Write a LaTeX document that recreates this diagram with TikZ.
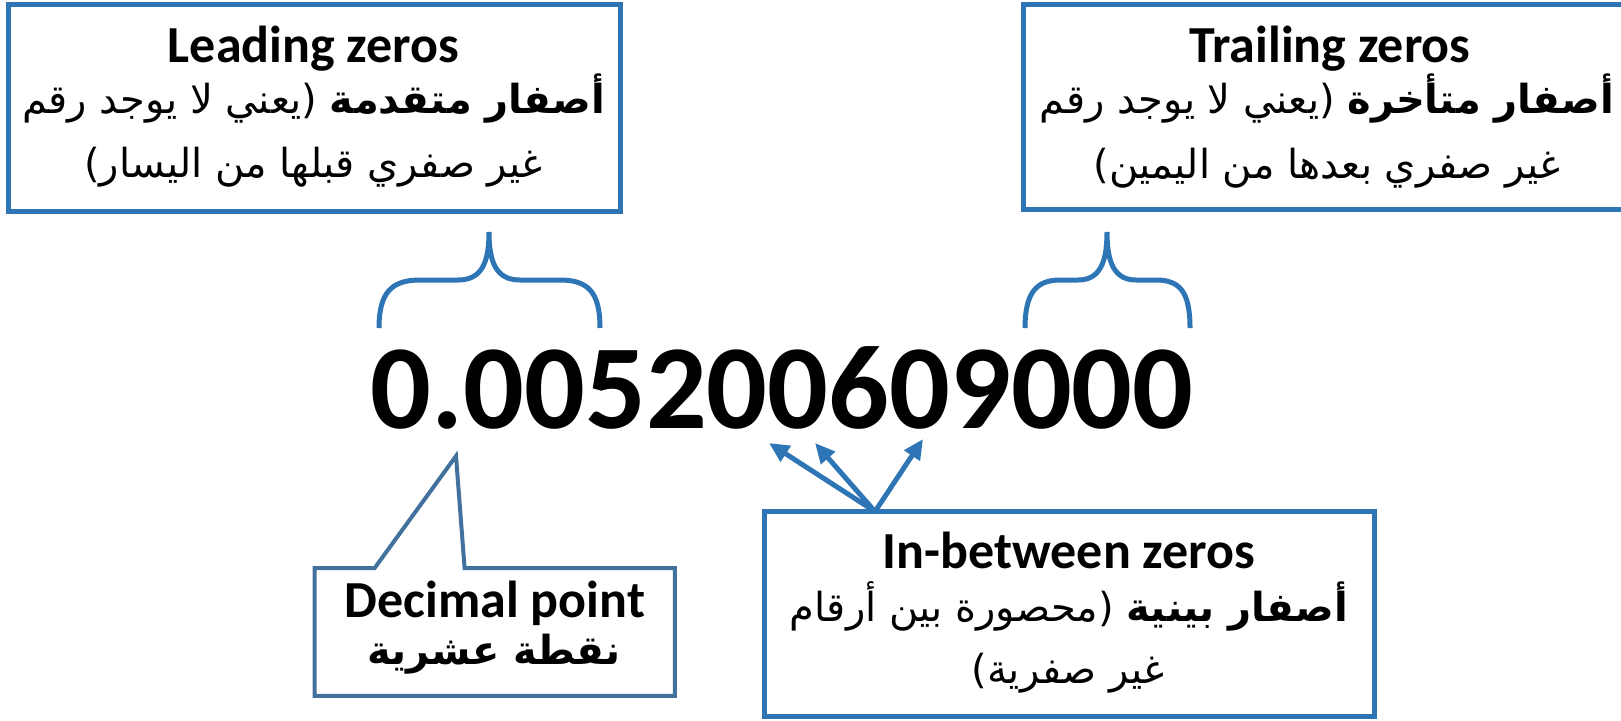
\documentclass[tikz,border=0pt]{standalone}
\usepackage{fontspec}
\setmainfont{Carlito}
\newfontfamily\arabicfont[Script=Arabic]{DejaVu Sans}
\TeXXeTstate=1
\usetikzlibrary{arrows.meta,calc}
\definecolor{boxblue}{RGB}{46,117,182}
\definecolor{calloutblue}{RGB}{65,113,156}

\begin{document}
\begin{tikzpicture}[x=0.5pt,y=-0.5pt,
  framebox/.style={draw=boxblue, line width=2.5pt, fill=white, inner sep=0pt},
  titletext/.style={font=\fontsize{26}{30}\selectfont\bfseries, anchor=base, inner sep=0pt},
  artext/.style={font=\fontsize{20}{24}\selectfont\arabicfont, anchor=base, inner sep=0pt},
  bracepath/.style={draw=boxblue, line width=2.5pt},
  pointer/.style={draw=boxblue, line width=2.5pt, -{Triangle[length=10pt,width=9pt]}},
  calloutline/.style={draw=calloutblue, line width=2pt, fill=white},
]
\useasboundingbox (0,0) rectangle (1621,720);
\clip (0,0) rectangle (1621,720);

% the number itself
\node[font=\fontsize{60}{64}\selectfont\bfseries, anchor=base, inner sep=0pt] (num) at (782,428) {0.005200609000};

% leading zeros box
\node[framebox, minimum width=306pt, minimum height=103.5pt] (lead) at (314.5,108) {};
\node[titletext] (leadT) at (313.5,62) {Leading zeros};
\node[artext] (leadA) at (313.5,113) {\beginR{\bfseries أصفار متقدمة} (يعني لا يوجد رقم\endR};
\node[artext] (leadB) at (313.5,177) {\beginR غير صفري قبلها من اليسار)\endR};

% trailing zeros box (runs past the right edge)
\node[framebox, minimum width=304.75pt, minimum height=102.5pt] (trail) at (1328.25,107) {};
\node[titletext] (trailT) at (1330,62) {Trailing zeros};
\node[artext] (trailA) at (1327,113) {\beginR{\bfseries أصفار متأخرة} (يعني لا يوجد رقم\endR};
\node[artext] (trailB) at (1327,178) {\beginR غير صفري بعدها من اليمين)\endR};

% braces over the leading and trailing zeros
\draw[bracepath] (379,328) .. controls (379,292) and (392,280) .. (420,280) -- (458,280)
  .. controls (482,280) and (489,262) .. (489,232)
  .. controls (489,262) and (496,280) .. (520,280) -- (560,280)
  .. controls (588,280) and (600,292) .. (600,328);
\draw[bracepath] (1025,328) .. controls (1025,292) and (1037,280) .. (1060,280) -- (1078,280)
  .. controls (1100,280) and (1107,262) .. (1107,232)
  .. controls (1107,262) and (1114,280) .. (1136,280) -- (1156,280)
  .. controls (1180,280) and (1190,292) .. (1190,328);

% decimal point callout
\node[minimum width=179.75pt, minimum height=63.5pt, inner sep=0pt] (dp) at (494.75,632) {};
\coordinate (dptip) at (456,456);
\draw[calloutline] (dp.north west) -- ++(60,0) -- (dptip) -- ($(dp.north west)+(150,0)$)
  -- (dp.north east) -- (dp.south east) -- (dp.south west) -- cycle;
\node[titletext] (dpT) at (495,617) {Decimal point};
\node[artext] (dpA) at (494,664) {\beginR{\bfseries نقطة عشرية}\endR};

% in-between zeros box and its arrows
\node[framebox, minimum width=304.75pt, minimum height=102.25pt] (ib) at (1069.25,613.75) {};
\node[titletext] (ibT) at (1069,568) {In-between zeros};
\node[artext] (ibA) at (1069,621) {\beginR{\bfseries أصفار بينية} (محصورة بين أرقام\endR};
\node[artext] (ibB) at (1068,683) {\beginR غير صفرية)\endR};

\coordinate (ibsrc) at (875,511.5);
\coordinate (tipA) at (769,443);
\coordinate (tipB) at (815,443);
\coordinate (tipC) at (923,439);
\draw[pointer] (ibsrc) -- (tipA);
\draw[pointer] (ibsrc) -- (tipB);
\draw[pointer] (ibsrc) -- (tipC);
\end{tikzpicture}
\end{document}
